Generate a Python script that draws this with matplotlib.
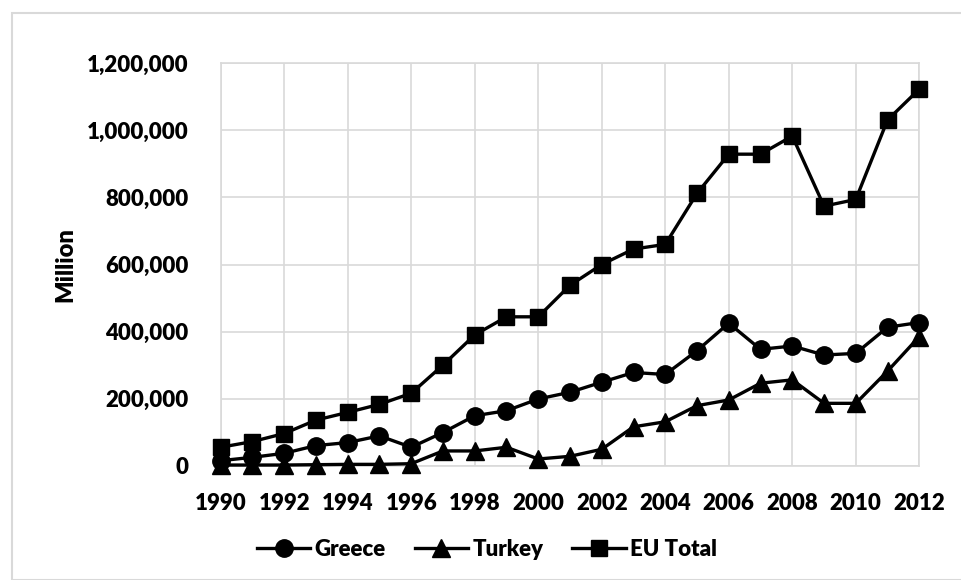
import matplotlib

matplotlib.use("Agg")

import matplotlib.pyplot as plt  # noqa: E402
from matplotlib.patches import Rectangle  # noqa: E402
from matplotlib.ticker import FuncFormatter, MultipleLocator  # noqa: E402

plt.rcParams["font.family"] = ["Lato", "DejaVu Sans"]

years = list(range(1990, 2013))

greece = [15000, 25000, 37000, 60000, 69000, 89000, 55000, 99000, 149000, 164000,
          199000, 219000, 249000, 278000, 272000, 343000, 425000, 347000, 357000,
          330000, 335000, 413000, 427000]
turkey = [2000, 2000, 2000, 3000, 4000, 4000, 6000, 44000, 44000, 55000,
          20000, 28000, 49000, 116000, 131000, 179000, 196000, 246000, 256000,
          186000, 186000, 282000, 385000]
eu_total = [55000, 72000, 96000, 136000, 159000, 183000, 216000, 300000, 390000,
            444000, 444000, 538000, 600000, 646000, 660000, 812000, 929000, 929000,
            983000, 774000, 794000, 1031000, 1123000]

series = [("Greece", greece, "o"), ("Turkey", turkey, "^"), ("EU Total", eu_total, "s")]

W, H = 962, 580
fig = plt.figure(figsize=(W / 100, H / 100), dpi=100)

# thin grey frame round the chart area
fig.patches.append(Rectangle((12 / W, 0), 1, 1 - 13 / H, transform=fig.transFigure,
                             fill=False, edgecolor="#d9d9d9", linewidth=1.5))

ax = fig.add_axes([220.7 / W, 1 - 465.7 / H, (919.3 - 220.7) / W, (465.7 - 63.3) / H])

for name, vals, mk in series:
    ax.plot(years, vals, color="black", linewidth=2.4, marker=mk,
            markersize=12.5 if mk != "s" else 12,
            markeredgecolor="black", markerfacecolor="black", label=name,
            clip_on=False, zorder=3)

ax.set_xlim(1990, 2012)
ax.set_ylim(0, 1200000)
ax.xaxis.set_major_locator(MultipleLocator(2))
ax.yaxis.set_major_locator(MultipleLocator(200000))
ax.yaxis.set_major_formatter(FuncFormatter(lambda v, _: f"{int(v):,}"))

ax.grid(True, color="#d9d9d9", linewidth=1.2)
ax.set_axisbelow(True)
for sp in ax.spines.values():
    sp.set_color("#d9d9d9")
    sp.set_linewidth(1.2)
ax.tick_params(length=0, labelsize=16, pad=20)
ax.tick_params(axis="y", pad=23)
for lbl in ax.get_xticklabels() + ax.get_yticklabels():
    lbl.set_fontweight("heavy")

ax.set_ylabel("Million", fontsize=17, fontweight="heavy", labelpad=8)

fig.legend(loc="center", bbox_to_anchor=(487 / W, 1 - 549 / H), ncol=3, frameon=False,
           prop={"size": 16, "weight": "heavy"}, handlelength=2.4, columnspacing=1.3,
           handletextpad=0.2)

fig.savefig("out.png", dpi=100)
